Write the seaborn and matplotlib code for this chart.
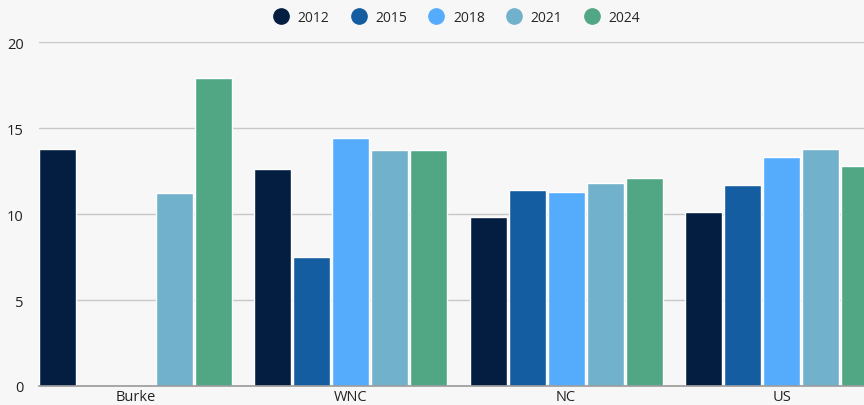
import matplotlib
matplotlib.use("Agg")
import matplotlib.pyplot as plt
from matplotlib.lines import Line2D
import seaborn as sns
import pandas as pd

regions = ["Burke", "WNC", "NC", "US"]
years = ["2012", "2015", "2018", "2021", "2024"]
colors = ["#041E42", "#155DA1", "#56ACFC", "#72B1CB", "#51A684"]

# values per year, None = no data
v2012 = [13.8, 12.6, 9.8, 10.1]
v2015 = [None, 7.5, 11.4, 11.7]
v2018 = [None, 14.4, 11.3, 13.3]
v2021 = [11.2, 13.7, 11.8, 13.8]
v2024 = [17.9, 13.7, 12.1, 12.8]

rows = []
for yr, vals in zip(years, [v2012, v2015, v2018, v2021, v2024]):
    for reg, v in zip(regions, vals):
        if v is not None:
            rows.append({"region": reg, "year": yr, "value": v})
df = pd.DataFrame(rows)

sns.set_style("white")
plt.rcParams['font.family'] = ['Open Sans', 'DejaVu Sans']

bg = "#F7F7F7"
fig = plt.figure(figsize=(8.64, 4.06), dpi=100, facecolor=bg)
ax = fig.add_axes([0.0451, 0.0468, 0.9549, 0.847])
ax.set_facecolor(bg)

sns.barplot(data=df, x="region", y="value", hue="year", order=regions,
            hue_order=years, palette=colors, width=0.905, gap=0.05,
            saturation=1, errorbar=None, ax=ax, legend=False)

ax.set_xlim(-0.448, 3.383)
ax.set_ylim(0, 20)
ax.set_yticks([0, 5, 10, 15, 20])
ax.yaxis.grid(True, color="#C8C8C8", linewidth=1)
ax.set_axisbelow(True)
for s in ["top", "right", "left"]:
    ax.spines[s].set_visible(False)
ax.spines["bottom"].set_color("#9A9A9A")
ax.spines["bottom"].set_linewidth(1.2)
ax.tick_params(axis="both", length=0, labelsize=10.5, colors="#222222")
ax.tick_params(axis="y", pad=11)
ax.tick_params(axis="x", pad=2)
ax.set_xlabel("")
ax.set_ylabel("")

handles = [Line2D([0], [0], marker="o", linestyle="", markersize=11,
                  markerfacecolor=c, markeredgecolor=c) for c in colors]
fig.legend(handles, years, loc="center", bbox_to_anchor=(0.525, 0.955),
           ncol=5, frameon=False, fontsize=10, handletextpad=0.2,
           columnspacing=1.1)

fig.savefig("out.png", dpi=100, facecolor=bg)
